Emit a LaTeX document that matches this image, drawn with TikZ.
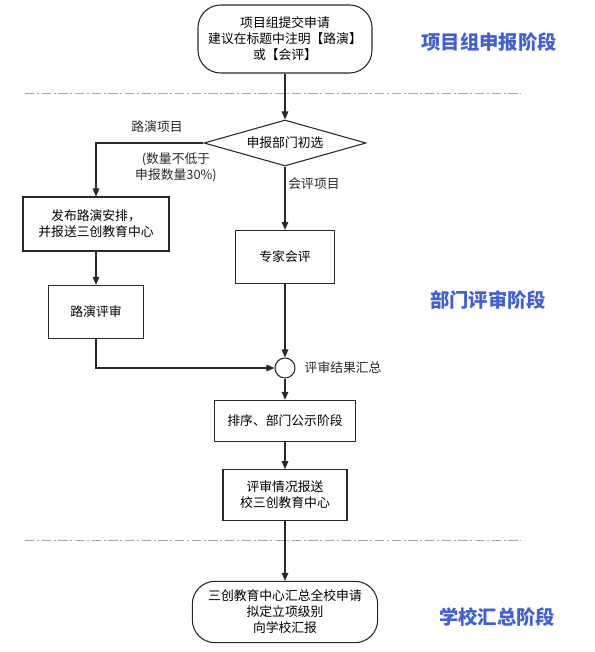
\documentclass[tikz,border=0pt]{standalone}
\usepackage{fontspec}
\setmainfont{Noto Sans CJK SC}
\usetikzlibrary{shapes.geometric,arrows.meta}
\definecolor{stageblue}{RGB}{64,96,216}
\definecolor{inkgray}{RGB}{40,40,40}
\tikzset{
  box/.style={draw=inkgray,line width=0.8pt,align=center,font=\fontsize{9.6pt}{12pt}\selectfont,inner sep=0pt},
  term/.style={box,rounded corners=17pt},
  choice/.style={box,diamond,shape aspect=3.5},
  mergept/.style={draw=inkgray,line width=0.8pt,circle,minimum size=15pt,inner sep=0pt},
  flow/.style={draw=inkgray,line width=0.8pt,-{Triangle[length=6pt,width=5pt]}},
  note/.style={align=center,font=\fontsize{9.6pt}{12pt}\selectfont,text=inkgray},
  stage/.style={font=\fontsize{14.5pt}{16pt}\selectfont\bfseries,text=stageblue},
  sep/.style={draw=gray!70,line width=0.6pt,dash pattern=on 7pt off 2pt on 1.5pt off 2pt}
}
\begin{document}
\begin{tikzpicture}[x=0.75pt,y=-0.75pt]
\useasboundingbox (0,0) rectangle (594,652);

\node[term,minimum width=130.5pt,minimum height=51pt] (apply) at (285,39) {项目组提交申请\\建议在标题中注明【路演】\\或【会评】};
\node[choice,minimum width=121.5pt,minimum height=34.5pt] (screen) at (285,143) {申报部门初选};
\node[box,minimum width=109.5pt,minimum height=40.5pt] (publish) at (96,224) {发布路演安排，\\并报送三创教育中心};
\node[box,minimum width=71pt,minimum height=40pt] (roadshow) at (96,312) {路演评审};
\node[box,minimum width=74pt,minimum height=40pt] (expert) at (285,257) {专家会评};
\node[mergept] (merge) at (285,368) {};
\node[box,minimum width=106pt,minimum height=31pt] (rank) at (285,421) {排序、部门公示阶段};
\node[box,minimum width=93pt,minimum height=38pt] (report) at (285,495) {评审情况报送\\校三创教育中心};
\node[term,minimum width=139pt,minimum height=46pt] (summary) at (285,612) {三创教育中心汇总全校申请\\拟定立项级别\\向学校汇报};

% stage separators
\draw[sep] (25,93) -- (521,93);
\draw[sep] (25,540) -- (521,540);

% labels
\node[note] (roadlbl) at (157,127) {路演项目};
\node[note] (quota) at (176,167) {(数量不低于\\申报数量30\%)};
\node[note] (reviewlbl) at (314,184) {会评项目};
\node[note,anchor=west] (mergelbl) at (300,368) {评审结果汇总};

\node[stage] (s1) at (489,42) {项目组申报阶段};
\node[stage] (s2) at (488,300) {部门评审阶段};
\node[stage] (s3) at (497,617) {学校汇总阶段};

% connectors
\draw[flow] (apply) -- (screen);
\draw[flow] (screen.west) -| (publish.north);
\draw[flow] (screen.south) -- (expert.north);
\draw[flow] (publish) -- (roadshow);
\draw[flow] (roadshow.south) |- (merge.west);
\draw[flow] (expert) -- (merge);
\draw[flow] (merge) -- (rank);
\draw[flow] (rank) -- (report);
\draw[flow] (report) -- (summary);
\end{tikzpicture}
\end{document}
